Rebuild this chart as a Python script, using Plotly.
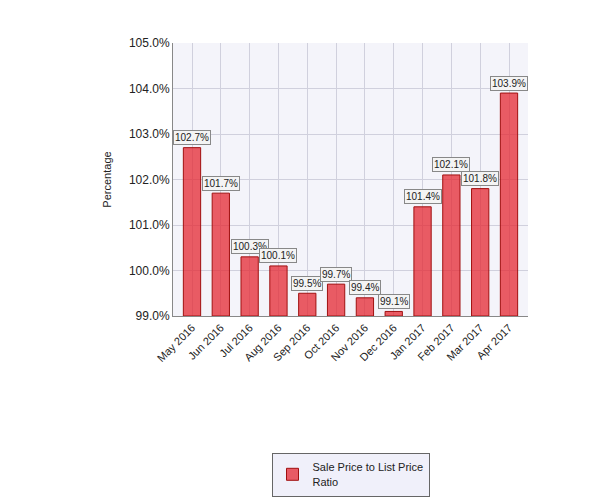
import plotly.graph_objects as go

months = ["May 2016","Jun 2016","Jul 2016","Aug 2016","Sep 2016","Oct 2016",
          "Nov 2016","Dec 2016","Jan 2017","Feb 2017","Mar 2017","Apr 2017"]
ratio = [102.7,101.7,100.3,100.1,99.5,99.7,99.4,99.1,101.4,102.1,101.8,103.9]
ticks = [99,100,101,102,103,104,105]

vals = [v/100 for v in ratio]
fig = go.Figure(go.Bar(
    x=months, y=[v-0.99 for v in vals], base=0.99,
    marker=dict(color="rgba(230,40,50,0.75)", line=dict(color="#a01010", width=1)),
    name="Sale Price to List Price<br>Ratio", showlegend=True, width=0.6))
for m, v in zip(months, ratio):
    fig.add_annotation(x=m, y=v/100, text=f"{v:.1f}%", showarrow=False, yshift=10,
                       font=dict(size=10, color="#222"), bgcolor="#f4f4f4",
                       bordercolor="#888", borderwidth=1, borderpad=1)
fig.update_layout(
    width=600, height=500, paper_bgcolor="white", plot_bgcolor="#f4f4fa",
    margin=dict(l=165, r=80, t=35, b=145),
    font=dict(family="Arial", size=12, color="#222"),
    yaxis=dict(range=[0.99,1.05], tickvals=[t/100 for t in ticks],
               ticktext=[f"{t:.1f}%" for t in ticks], gridcolor="#d0d0dd",
               title=dict(text="Percentage", font=dict(size=11)),
               showline=True, linecolor="#888"),
    xaxis=dict(tickangle=-45, tickfont=dict(size=11), showline=True, linecolor="#888",
               gridcolor="#d0d0dd", showgrid=True),
    legend=dict(orientation="h", x=0.5, xanchor="center", y=-0.5, yanchor="top",
                bordercolor="#666", borderwidth=1, bgcolor="#f0f0fa", font=dict(size=11)),
)
fig.write_html("out.html")
